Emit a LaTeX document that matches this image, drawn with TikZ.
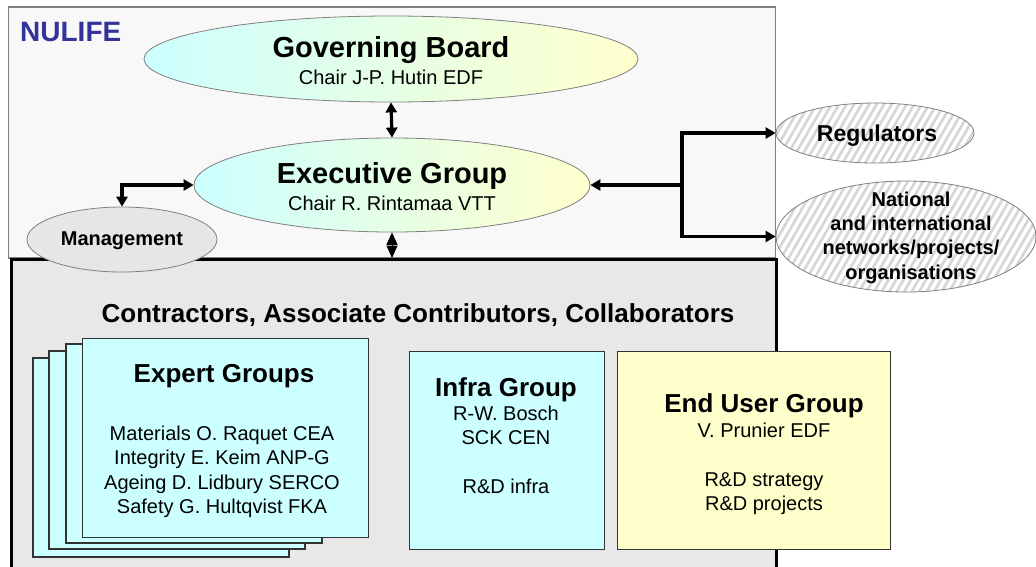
\documentclass[tikz,border=0pt]{standalone}
\usepackage{fontspec}
\setmainfont{Liberation Sans}
\usetikzlibrary{arrows.meta,shapes.geometric}
\definecolor{cyanf}{HTML}{CCFFFF}
\definecolor{yelf}{HTML}{FFFFCC}
\definecolor{upfill}{HTML}{F8F8F8}
\definecolor{lowfill}{HTML}{E8E8E8}
\definecolor{mgfill}{HTML}{E6E6E6}
\definecolor{bord}{HTML}{808080}
\definecolor{nul}{HTML}{333399}
\definecolor{hatchc}{HTML}{D6D6D6}
\definecolor{boxb}{HTML}{333333}
\begin{document}
\begin{tikzpicture}[x=1pt,y=-1pt,
  ell/.style={ellipse, draw=bord, line width=0.8pt, inner sep=0pt},
  grad/.style={ell, left color=cyanf, right color=yelf},
  hatched/.style={ell, fill=white, path picture={
      \foreach \k in {-40,...,40}
        \draw[hatchc, line width=2.6pt] ([xshift=\k*7.5pt]path picture bounding box.center) ++(-90pt,-155.9pt) -- ++(180pt,311.8pt);}},
  grp/.style={draw=boxb, line width=1.1pt},
  tbig/.style={font=\fontsize{29}{33}\selectfont\bfseries, inner sep=0pt, anchor=base},
  tsub/.style={font=\fontsize{20}{24}\selectfont, inner sep=0pt, anchor=base},
  tbox/.style={font=\fontsize{26}{30}\selectfont\bfseries, inner sep=0pt, anchor=base},
  tlist/.style={font=\fontsize{20}{24.4}\selectfont, inner sep=0pt, anchor=north, align=center},
  arr/.style={line width=3.2pt, line join=miter, -{Triangle[length=10pt,width=11pt]}},
  darr/.style={line width=3.2pt, line join=miter, {Triangle[length=10pt,width=11pt]}-{Triangle[length=10pt,width=11pt]}},
  dia/.style={line width=1pt, {Triangle[length=12.5pt,width=11pt]}-{Triangle[length=12.5pt,width=11pt]}}
]
\useasboundingbox (0,0) rectangle (1036,566);

% upper (NULIFE) frame
\draw[draw=bord, line width=1.2pt, fill=upfill] (8.3,7) rectangle (775.5,258);
\node[font=\fontsize{28}{32}\selectfont\bfseries, text=nul, inner sep=0pt, anchor=base west] (nulife) at (20,41) {NULIFE};

% lower frame
\node[draw=black, line width=3pt, fill=lowfill, minimum width=765pt, minimum height=340pt, inner sep=0pt, anchor=north west] (lower) at (9.5,258) {};

% ellipses
\node[grad, minimum width=494pt, minimum height=86pt] (gb) at (391,59) {};
\node[tbig] (gbt) at (391,57) {Governing Board};
\node[tsub] (gbs) at (391,84) {Chair J-P. Hutin EDF};

\node[grad, minimum width=396pt, minimum height=94pt] (eg) at (392,185) {};
\node[tbig] (egt) at (392,183) {Executive Group};
\node[tsub] (egs) at (392,210) {Chair R. Rintamaa VTT};

\node[ell, fill=mgfill, minimum width=190pt, minimum height=65pt] (mgmt) at (122,239.5) {};
\node[font=\fontsize{20}{24}\selectfont\bfseries, inner sep=0pt, anchor=base] (mgmtt) at (122,245) {Management};

\node[hatched, minimum width=198pt, minimum height=60pt] (reg) at (875,133) {};
\node[font=\fontsize{23}{27}\selectfont\bfseries, inner sep=0pt, anchor=base] (regt) at (877,141) {Regulators};

\node[hatched, minimum width=260pt, minimum height=111pt] (nat) at (906,236.5) {};
\node[font=\fontsize{20}{24.3}\selectfont\bfseries, inner sep=0pt, anchor=north, align=center] (natt) at (911,191.5) {National\\and international\\networks/projects/\\organisations};

% connectors
\draw[darr] (gb.south) -- (eg.north);
\draw[dia] (eg.south) -- (eg.south |- lower.north);
\draw[darr] (eg.west) -| (mgmt.north);
\coordinate (j) at (682,185);
\draw[arr] (j) -- (eg.east);
\draw[arr] (j) |- (reg.west);
\draw[arr] (j) |- (nat.west);

% header
\node[tbox] (hdr) at (418,322) {Contractors, Associate Contributors, Collaborators};

% expert groups stack
\draw[grp, fill=cyanf] (33,358) rectangle (289,557);
\draw[grp, fill=cyanf] (49,351) rectangle (305,549);
\draw[grp, fill=cyanf] (66,344) rectangle (322,543);
\node[grp, fill=cyanf, minimum width=286pt, minimum height=199pt, inner sep=0pt, anchor=north west] (exp) at (82,338) {};
\node[tbox] (expt) at (224,382) {Expert Groups};
\node[tlist] (expl) at (222,425.7) {Materials O. Raquet CEA\\Integrity E. Keim ANP-G\\Ageing D. Lidbury SERCO\\Safety G. Hultqvist FKA};

% infra group
\node[grp, fill=cyanf, minimum width=195pt, minimum height=198pt, inner sep=0pt, anchor=north west] (inf) at (409,351) {};
\node[tbox] (inft) at (506,396) {Infra Group};
\node[tlist] (infl) at (506,405.7) {R-W. Bosch\\SCK CEN\\\mbox{}\\R\&D infra};

% end user group
\node[grp, fill=yelf, minimum width=273pt, minimum height=198pt, inner sep=0pt, anchor=north west] (eu) at (617,351) {};
\node[tbox] (eut) at (764,412) {End User Group};
\node[tlist] (eul) at (764,422.7) {V. Prunier EDF\\\mbox{}\\R\&D strategy\\R\&D projects};
\end{tikzpicture}
\end{document}
